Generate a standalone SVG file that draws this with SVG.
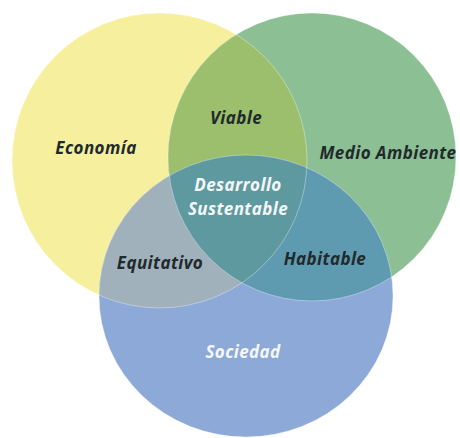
<svg xmlns="http://www.w3.org/2000/svg" width="460" height="438" viewBox="0 0 460 438">
  <style>
    .lbl { font-family: "Open Sans", "Liberation Sans", sans-serif; font-style: italic; font-weight: bold; font-size: 17px; letter-spacing: 0.4px; text-anchor: middle; }
    .dark { fill: #1f2a2c; }
    .light { fill: #f4f7f8; }
    .edge { fill: none; stroke: #ffffff; stroke-opacity: 0.35; stroke-width: 1; }
  </style>
  <defs>
    <circle id="cY" cx="159.5" cy="160.5" r="147.5"/>
    <circle id="cG" cx="312" cy="157" r="144"/>
    <ellipse id="cB" cx="246" cy="296" rx="147" ry="141"/>
    <clipPath id="clipY"><use href="#cY"/></clipPath>
    <clipPath id="clipG"><use href="#cG"/></clipPath>
  </defs>
  <rect width="460" height="438" fill="#ffffff"/>

  <g id="economia">
    <use href="#cY" fill="#f6f09e"/>
  </g>
  <g id="medio-ambiente">
    <use href="#cG" fill="#8cc094"/>
  </g>
  <g id="viable">
    <use href="#cG" fill="#9bbf6c" clip-path="url(#clipY)"/>
  </g>
  <g id="sociedad">
    <use href="#cB" fill="#8ca9d8"/>
  </g>
  <g id="equitativo">
    <use href="#cB" fill="#a0b1bc" clip-path="url(#clipY)"/>
  </g>
  <g id="habitable">
    <use href="#cB" fill="#5f9bb0" clip-path="url(#clipG)"/>
  </g>
  <g id="desarrollo-sustentable">
    <g clip-path="url(#clipY)">
      <use href="#cB" fill="#5f99a0" clip-path="url(#clipG)"/>
    </g>
  </g>
  <g id="edges">
    <use href="#cY" class="edge"/>
    <use href="#cG" class="edge"/>
    <use href="#cB" class="edge"/>
  </g>

  <g id="labels">
    <text class="lbl dark" x="96" y="154">Economía</text>
    <text class="lbl dark" x="236" y="124">Viable</text>
    <text class="lbl dark" x="388" y="159">Medio Ambiente</text>
    <text class="lbl light" x="238" y="191">Desarrollo</text>
    <text class="lbl light" x="238" y="215">Sustentable</text>
    <text class="lbl dark" x="160" y="269">Equitativo</text>
    <text class="lbl dark" x="325" y="265">Habitable</text>
    <text class="lbl light" x="243" y="358">Sociedad</text>
  </g>
</svg>
